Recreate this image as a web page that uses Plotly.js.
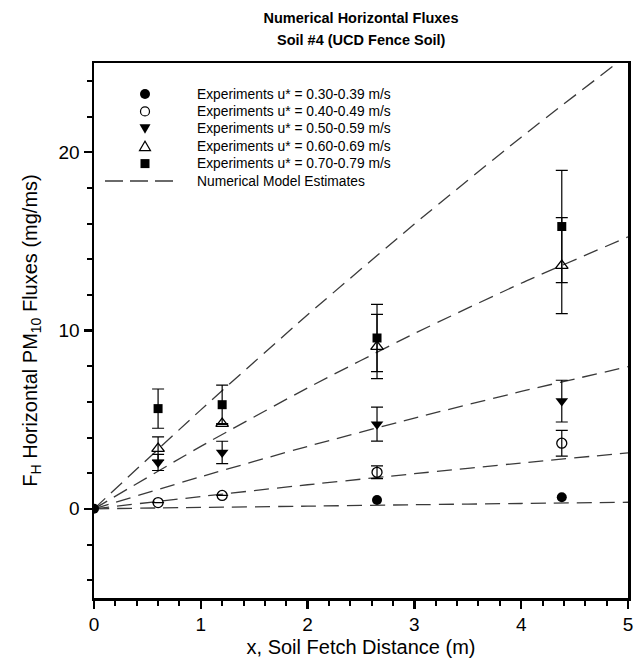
<!DOCTYPE html>
<html>
<head>
<meta charset="utf-8">
<script src="https://cdn.plot.ly/plotly-3.0.1.min.js"></script>
<style>
  html, body { margin: 0; padding: 0; background: #fff; }
  #chart { width: 640px; height: 662px; }
</style>
</head>
<body>
<div id="chart"></div>
<script>
// Fetch positions (m) of the measurement stations
const xOrigin = [0];
const xStations = [0.6, 1.2, 2.65, 4.38];
const xFar = [2.65, 4.38];

// Measured horizontal PM10 fluxes (mg/ms) and their spreads
const fluxU030 = [0, 0.5, 0.65];          // u* = 0.30-0.39, at [0, 2.65, 4.38]
const fluxU040 = [0.35, 0.75, 2.05, 3.68];
const errU040 = [0, 0, 0.36, 0.72];
const fluxU050 = [2.6, 3.16, 4.75, 6.04];
const errU050 = [0.45, 0.63, 0.95, 1.17];
const fluxU060 = [3.38, 4.78, 9.1, 13.64];
const errU060 = [0.65, 0, 1.8, 2.69];
const fluxU070 = [5.62, 5.84, 9.58, 15.83];
const errU070 = [1.1, 1.1, 1.89, 3.15];

// Numerical model estimates along the fetch
const xModel = [0, 1, 2, 3, 4, 5];
const modelU030 = [0, 0.08, 0.15, 0.23, 0.30, 0.37];
const modelU040 = [0, 0.69, 1.35, 1.97, 2.57, 3.14];
const modelU050 = [0, 1.80, 3.50, 5.09, 6.58, 7.97];
const modelU060 = [0, 3.50, 6.78, 9.83, 12.65, 15.25];
const modelU070 = [0, 5.55, 10.88, 15.97, 20.84, 25.47];

const legendLabels = [
  'Experiments u* = 0.30-0.39 m/s',
  'Experiments u* = 0.40-0.49 m/s',
  'Experiments u* = 0.50-0.59 m/s',
  'Experiments u* = 0.60-0.69 m/s',
  'Experiments u* = 0.70-0.79 m/s',
  'Numerical Model Estimates'
];

const FONT = 'Liberation Sans, Arial, Helvetica, sans-serif';
const W = 640, H = 662;
const M = { l: 94, r: 12, t: 63, b: 64 };
const PW = W - M.l - M.r, PH = H - M.t - M.b;
const DASH = '15px,8px';
const LINE_COLOR = '#3a3a3a';

const modelSeries = [modelU070, modelU060, modelU050, modelU040, modelU030];
const traces = modelSeries.map(ys => ({
  type: 'scatter', mode: 'lines', x: xModel, y: ys,
  line: { color: LINE_COLOR, width: 1.3, dash: DASH, shape: 'spline', smoothing: 0.6 },
  name: legendLabels[5], hoverinfo: 'skip'
}));

function errBar(arr) {
  return { type: 'data', array: arr, visible: true, color: '#000', thickness: 1.2, width: 6 };
}

traces.push({
  type: 'scatter', mode: 'markers', x: xOrigin.concat(xFar), y: fluxU030,
  marker: { symbol: 'circle', size: 10, color: '#000' }, name: legendLabels[0]
});
traces.push({
  type: 'scatter', mode: 'markers', x: xStations, y: fluxU040, error_y: errBar(errU040),
  marker: { symbol: 'circle-open', size: 10, color: '#000', line: { width: 1.3 } }, name: legendLabels[1]
});
traces.push({
  type: 'scatter', mode: 'markers', x: xStations, y: fluxU050, error_y: errBar(errU050),
  marker: { symbol: 'triangle-down', size: 11, color: '#000' }, name: legendLabels[2]
});
traces.push({
  type: 'scatter', mode: 'markers', x: xStations, y: fluxU060, error_y: errBar(errU060),
  marker: { symbol: 'triangle-up-open', size: 11, color: '#000', line: { width: 1.3 } }, name: legendLabels[3]
});
traces.push({
  type: 'scatter', mode: 'markers', x: xStations, y: fluxU070, error_y: errBar(errU070),
  marker: { symbol: 'square', size: 9, color: '#000' }, name: legendLabels[4]
});

// Key box drawn in the upper-left corner of the plot (pixel layout converted to paper units)
const px = v => (v - M.l) / PW;
const py = v => (H - M.b - v) / PH;
const keyRows = [94, 111.4, 128.8, 146.2, 163.6, 181];
const keySymX = 145, keyTextX = 195;

function polyPath(pts) {
  return 'M' + pts.map(p => px(p[0]).toFixed(5) + ',' + py(p[1]).toFixed(5)).join('L') + 'Z';
}
const shapes = [];
const ink = { color: '#000', width: 1.2 };
// filled circle
shapes.push({ type: 'circle', xref: 'paper', yref: 'paper',
  x0: px(keySymX - 5), x1: px(keySymX + 5), y0: py(keyRows[0] + 5), y1: py(keyRows[0] - 5),
  fillcolor: '#000', line: { color: '#000', width: 0 } });
// open circle
shapes.push({ type: 'circle', xref: 'paper', yref: 'paper',
  x0: px(keySymX - 4.5), x1: px(keySymX + 4.5), y0: py(keyRows[1] + 4.5), y1: py(keyRows[1] - 4.5),
  fillcolor: 'rgba(0,0,0,0)', line: ink });
// filled down triangle
shapes.push({ type: 'path', xref: 'paper', yref: 'paper',
  path: polyPath([[keySymX - 5.5, keyRows[2] - 4.5], [keySymX + 5.5, keyRows[2] - 4.5], [keySymX, keyRows[2] + 5]]),
  fillcolor: '#000', line: { color: '#000', width: 0 } });
// open up triangle
shapes.push({ type: 'path', xref: 'paper', yref: 'paper',
  path: polyPath([[keySymX - 5.5, keyRows[3] + 4.5], [keySymX + 5.5, keyRows[3] + 4.5], [keySymX, keyRows[3] - 5]]),
  fillcolor: 'rgba(0,0,0,0)', line: ink });
// filled square
shapes.push({ type: 'rect', xref: 'paper', yref: 'paper',
  x0: px(keySymX - 4.5), x1: px(keySymX + 4.5), y0: py(keyRows[4] + 4.5), y1: py(keyRows[4] - 4.5),
  fillcolor: '#000', line: { color: '#000', width: 0 } });
// dashed model line
shapes.push({ type: 'line', xref: 'paper', yref: 'paper',
  x0: px(105), x1: px(178), y0: py(keyRows[5]), y1: py(keyRows[5]),
  line: { color: LINE_COLOR, width: 1.3, dash: '18px,7px' } });

const annotations = legendLabels.map((t, i) => ({
  xref: 'paper', yref: 'paper', x: px(keyTextX), y: py(keyRows[i]),
  xanchor: 'left', yanchor: 'middle', showarrow: false, text: t,
  font: { family: FONT, size: 13.8, color: '#000' }
}));
annotations.push({
  xref: 'paper', yref: 'paper', x: 0.5, y: py(40), xanchor: 'center', yanchor: 'middle',
  showarrow: false, text: '<b>Soil #4 (UCD Fence Soil)</b>',
  font: { family: FONT, size: 14.5, color: '#000' }
});

const layout = {
  width: W, height: H,
  margin: M,
  paper_bgcolor: '#fff', plot_bgcolor: '#fff',
  font: { family: FONT, color: '#000', size: 12 },
  title: {
    text: '<b>Numerical Horizontal Fluxes</b>',
    font: { family: FONT, size: 14.5, color: '#000' },
    xref: 'paper', x: 0.5, xanchor: 'center',
    yref: 'container', y: 1 - 18 / H, yanchor: 'middle'
  },
  showlegend: false,
  shapes: shapes,
  annotations: annotations,
  xaxis: {
    range: [0, 5], dtick: 1, tick0: 0,
    showgrid: false, zeroline: false,
    showline: true, linecolor: '#000', linewidth: 2.5, mirror: true,
    ticks: 'outside', ticklen: 8, tickwidth: 2.5, tickcolor: '#000',
    minor: { dtick: 0.2, ticks: 'outside', ticklen: 5, tickwidth: 2, tickcolor: '#000' },
    tickfont: { family: FONT, size: 19 },
    title: { text: 'x, Soil Fetch Distance (m)', font: { family: FONT, size: 20 }, standoff: 6 }
  },
  yaxis: {
    range: [-5, 25], dtick: 10, tick0: 0,
    showgrid: false, zeroline: false,
    showline: true, linecolor: '#000', linewidth: 2.5, mirror: true,
    ticks: 'outside', ticklen: 8, tickwidth: 2.5, tickcolor: '#000',
    minor: { dtick: 2, ticks: 'outside', ticklen: 5, tickwidth: 2, tickcolor: '#000' },
    tickfont: { family: FONT, size: 19 },
    title: { text: 'F<sub>H</sub> Horizontal PM<sub>10</sub> Fluxes (mg/ms)', font: { family: FONT, size: 20 }, standoff: 16 }
  }
};

Plotly.newPlot('chart', traces, layout, { displayModeBar: false, staticPlot: true });
</script>
</body>
</html>
